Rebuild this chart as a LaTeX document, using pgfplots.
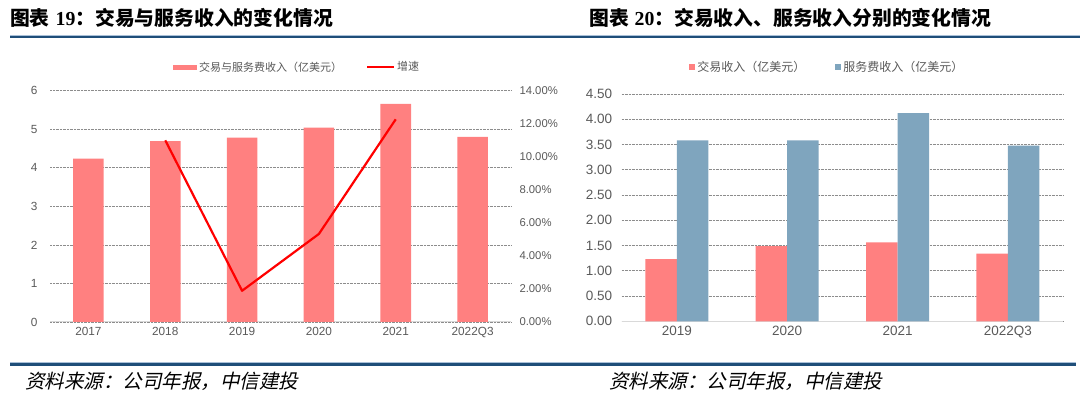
\documentclass[border=0pt]{standalone}
\usepackage{fontspec}
\usepackage{pgfplots}
\pgfplotsset{compat=1.18}
\setmainfont{Liberation Sans}
\newfontfamily\cjk{Noto Sans CJK SC}
\newfontfamily\cjkit[FakeSlant=0.22]{Noto Sans CJK SC}
\newfontfamily\tnr{Liberation Serif}
\definecolor{barred}{HTML}{FF8080}
\definecolor{barblue}{HTML}{7FA5BE}
\definecolor{linered}{HTML}{FF0000}
\definecolor{txtgray}{HTML}{595959}
\definecolor{gridgray}{HTML}{8C8C8C}
\definecolor{axgray}{HTML}{D9D9D9}
\definecolor{darkblue}{HTML}{1F4E79}
\definecolor{lightblue}{HTML}{A9C0D8}
\begin{document}
\begin{tikzpicture}
\path[use as bounding box] (0pt,0pt) rectangle (1080pt,398pt);
% titles
\node[anchor=west,inner sep=0pt] at (10pt,380.5pt) {\cjk\bfseries\fontsize{19.8}{19.8}\selectfont 图表\hspace{0.3em}{\tnr\bfseries 19}：交易与服务收入的变化情况};
\node[anchor=west,inner sep=0pt] at (589pt,380.5pt) {\cjk\bfseries\fontsize{19.8}{19.8}\selectfont 图表\hspace{0.3em}{\tnr\bfseries 20}：交易收入、服务收入分别的变化情况};
\draw[lightblue,line width=0.8pt] (10pt,363pt) -- (1080pt,363pt);
\draw[darkblue,line width=2.4pt] (10pt,361.2pt) -- (1080pt,361.2pt);
\draw[lightblue,line width=0.8pt] (10pt,35.6pt) -- (1076pt,35.6pt);
\draw[darkblue,line width=2.4pt] (10pt,33.6pt) -- (1076pt,33.6pt);
\node[anchor=west,inner sep=0pt] at (25pt,16.5pt) {\cjkit\fontsize{19.5}{19.5}\selectfont 资料来源：公司年报，中信建投};
\node[anchor=west,inner sep=0pt] at (609pt,16.5pt) {\cjkit\fontsize{19.5}{19.5}\selectfont 资料来源：公司年报，中信建投};

% ---------------- left chart ----------------
\begin{axis}[
  at={(50pt,76pt)}, anchor=south west,
  width=461pt, height=231.3pt, scale only axis,
  xmin=-0.5, xmax=5.5, ymin=0, ymax=6,
  xtick={0,1,2,3,4,5},
  xticklabels={2017,2018,2019,2020,2021,2022Q3},
  ytick={0,1,2,3,4,5,6},
  axis x line*=bottom, axis y line*=left,
  x axis line style={draw=axgray,line width=1pt},
  y axis line style={draw=none},
  major tick length=0pt,
  ymajorgrids,
  major grid style={draw=gridgray,dash pattern=on 0.7pt off 0.7pt,line width=0.7pt},
  tick label style={font=\fontsize{11.8}{11.8}\selectfont,text=txtgray},
  /pgf/number format/assume math mode=true,
  yticklabel style={xshift=-9pt},
  xticklabel style={yshift=-2pt},
  ybar, bar width=30.5pt,
  legend columns=2,
  legend style={at={(0.536,1.102)},anchor=center,draw=none,fill=none,
    font=\cjk\fontsize{11}{11}\selectfont,text=txtgray,
    /tikz/every even column/.append style={column sep=22pt},
    inner sep=0pt},
]
\addplot[fill=barred,draw=none,
  legend image code/.code={\fill[barred] (0pt,-2.5pt) rectangle (24pt,2.5pt);}]
  coordinates {(0,4.24) (1,4.69) (2,4.78) (3,5.04) (4,5.66) (5,4.80)};
\addlegendentry{交易与服务费收入（亿美元）}
\addlegendimage{legend image code/.code={\draw[linered,line width=2pt] (0pt,0pt) -- (27pt,0pt);}}
\addlegendentry{增速}
\end{axis}
\begin{axis}[
  at={(50pt,76pt)}, anchor=south west,
  width=461pt, height=231.3pt, scale only axis,
  xmin=-0.5, xmax=5.5, ymin=0, ymax=14,
  axis x line=none, axis y line*=right,
  y axis line style={draw=none},
  major tick length=0pt,
  ytick={0,2,4,6,8,10,12,14},
  yticklabel={\pgfmathprintnumber[fixed,fixed zerofill,precision=2]{\tick}\%},
  /pgf/number format/assume math mode=true,
  tick label style={font=\fontsize{11.3}{11.3}\selectfont,text=txtgray},
  yticklabel style={xshift=5pt},
]
\addplot[linered,line width=2.2pt,line join=round] coordinates {(1,11.0) (2,1.89) (3,5.33) (4,12.27)};
\end{axis}

% ---------------- right chart ----------------
\begin{axis}[
  at={(621.7pt,76.7pt)}, anchor=south west,
  width=441.3pt, height=227.3pt, scale only axis,
  xmin=-0.5, xmax=3.5, ymin=0, ymax=4.5,
  xtick={0,1,2,3},
  xticklabels={2019,2020,2021,2022Q3},
  ytick={0,0.5,1,1.5,2,2.5,3,3.5,4,4.5},
  /pgf/number format/fixed,
  /pgf/number format/fixed zerofill,
  /pgf/number format/precision=2,
  axis x line*=bottom, axis y line*=left,
  x axis line style={draw=axgray,line width=1pt},
  y axis line style={draw=none},
  major tick length=0pt,
  ymajorgrids,
  major grid style={draw=gridgray,dash pattern=on 0.7pt off 0.7pt,line width=0.7pt},
  tick label style={font=\fontsize{13.5}{13.5}\selectfont,text=txtgray},
  /pgf/number format/assume math mode=true,
  yticklabel style={xshift=-6pt},
  xticklabel style={yshift=-1pt},
  ybar=0pt, bar width=31.5pt,
  legend columns=2,
  legend style={at={(0.466,1.119)},anchor=center,draw=none,fill=none,
    font=\cjk\fontsize{12}{12}\selectfont,text=txtgray,
    /tikz/every even column/.append style={column sep=28pt},
    inner sep=0pt},
]
\addplot[fill=barred,draw=none,
  legend image code/.code={\fill[barred] (0pt,-3pt) rectangle (6pt,3pt);}]
  coordinates {(0,1.23) (1,1.49) (2,1.56) (3,1.34)};
\addlegendentry{交易收入（亿美元）}
\addplot[fill=barblue,draw=none,
  legend image code/.code={\fill[barblue] (0pt,-3pt) rectangle (6pt,3pt);}]
  coordinates {(0,3.58) (1,3.58) (2,4.12) (3,3.48)};
\addlegendentry{服务费收入（亿美元）}
\end{axis}
\end{tikzpicture}
\end{document}
